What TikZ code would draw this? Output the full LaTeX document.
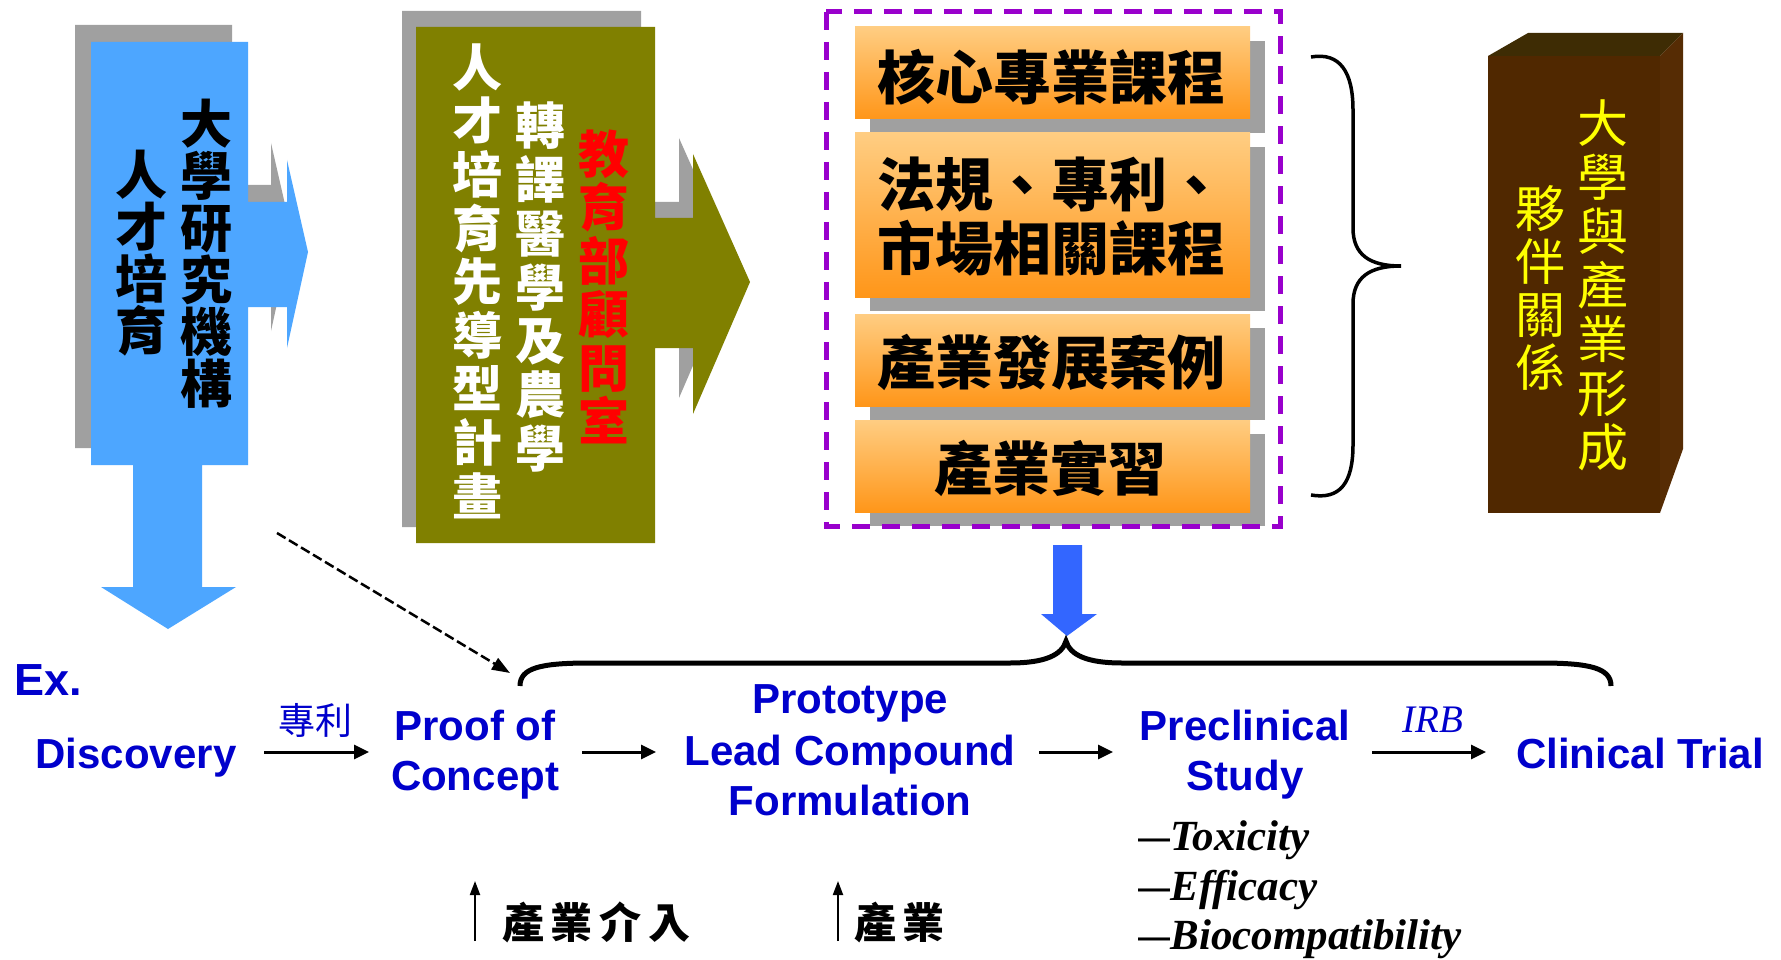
\documentclass[tikz,border=0pt]{standalone}
\usepackage{fontspec}
\setmainfont{Liberation Sans}
\newfontfamily\tnr{Liberation Serif}
\newfontfamily\cjk{Noto Sans CJK TC}
\newfontfamily\cjksp{Noto Sans CJK TC}[LetterSpace=16]
\usetikzlibrary{arrows.meta}
\definecolor{skyb}{RGB}{77,166,255}
\definecolor{shad}{RGB}{160,160,160}
\definecolor{oliv}{RGB}{128,128,0}
\definecolor{purp}{RGB}{153,0,204}
\definecolor{brn}{RGB}{80,40,0}
\definecolor{brntop}{RGB}{62,44,4}
\definecolor{brnside}{RGB}{86,44,4}
\definecolor{txtblue}{RGB}{0,0,204}
\definecolor{dblue}{RGB}{51,102,255}
\definecolor{orlight}{RGB}{255,205,130}
\definecolor{ordark}{RGB}{255,150,25}
\definecolor{tyellow}{RGB}{255,255,0}
\definecolor{tred}{RGB}{255,0,0}
\newcommand{\longdash}{\scalebox{1.45}[1]{–}}
\tikzset{
  vcol/.style={align=center, inner sep=0pt},
  blab/.style={font=\bfseries\fontsize{42}{51}\selectfont, text=txtblue, inner sep=0pt, anchor=base},
  subl/.style={font=\tnr\bfseries\itshape\fontsize{43}{43}\selectfont, inner sep=0pt, anchor=base west},
  arr/.style={line width=3pt, -{Triangle[length=15pt,width=14pt]}},
  uparr/.style={line width=2pt, -{Triangle[length=14pt,width=10pt]}},
  obox/.style={top color=orlight, bottom color=ordark, draw=none},
  otext/.style={font=\cjk\bfseries\fontsize{58}{64}\selectfont, inner sep=0pt, align=left},
  indus/.style={font=\cjksp\bfseries\fontsize{42}{42}\selectfont, inner sep=0pt, anchor=base west}
}
\begin{document}
\begin{tikzpicture}[x=1pt,y=-1pt]
\fill[white] (0,0) rectangle (1781,960);
\useasboundingbox (0,0) rectangle (1781,960);

% ---------- blue arrow (university) ----------
\fill[shad, shift={(-16,-17)}] (91,42) -- (248,42) -- (248,202) -- (287,202) -- (287,160) -- (308,252) -- (287,348) -- (287,307) -- (248,307) -- (248,465) -- (91,465) -- cycle;
\fill[skyb] (91,42) -- (248,42) -- (248,202) -- (287,202) -- (287,160) -- (308,252) -- (287,348) -- (287,307) -- (248,307) -- (248,465) -- (202,465) -- (202,587) -- (236,587) -- (168,629) -- (101,587) -- (133,587) -- (133,465) -- (91,465) -- cycle;
\node[vcol, font=\cjk\bfseries\fontsize{52}{52}\selectfont] (blueA) at (206,254) {大\\學\\研\\究\\機\\構};
\node[vcol, font=\cjk\bfseries\fontsize{52}{52}\selectfont] (blueB) at (141,253) {人\\才\\培\\育};

% ---------- olive arrow ----------
\fill[shad, shift={(-14,-16)}] (416,27) -- (655,27) -- (655,218) -- (693,218) -- (693,154) -- (750,282) -- (693,414) -- (693,348) -- (655,348) -- (655,543) -- (416,543) -- cycle;
\fill[oliv] (416,27) -- (655,27) -- (655,218) -- (693,218) -- (693,154) -- (750,282) -- (693,414) -- (693,348) -- (655,348) -- (655,543) -- (416,543) -- cycle;
\node[vcol, text=white, font=\cjk\bfseries\fontsize{50}{53.6}\selectfont] (olA) at (477,281) {人\\才\\培\\育\\先\\導\\型\\計\\畫};
\node[vcol, text=white, font=\cjk\bfseries\fontsize{50}{53.8}\selectfont] (olB) at (540,287) {轉\\譯\\醫\\學\\及\\農\\學};
\node[vcol, text=tred, font=\cjk\bfseries\fontsize{51}{53.4}\selectfont] (olC) at (604,287) {教\\育\\部\\顧\\問\\室};

% ---------- orange course boxes ----------
\fill[shad] (870,41) rectangle (1265,133);
\fill[shad] (870,147) rectangle (1265,311);
\fill[shad] (870,328) rectangle (1265,420);
\fill[shad] (870,434) rectangle (1265,526);
\shade[obox] (855,27) rectangle (1250,119);
\shade[obox] (855,133) rectangle (1250,297);
\shade[obox] (855,314) rectangle (1250,406);
\shade[obox] (855,420) rectangle (1250,512);
\node[otext, anchor=west] (c1) at (877,77) {核心專業課程};
\node[otext, anchor=west] (c2) at (877,217) {法規、專利、\\市場相關課程};
\node[otext, anchor=west] (c3) at (877,362) {產業發展案例};
\node[otext] (c4) at (1050,468) {產業實習};
\draw[purp, line width=5pt, dash pattern=on 18pt off 12pt] (826,12) rectangle (1280,526);

% ---------- right brace ----------
\draw[line width=3.5pt] (1311,57) .. controls (1340,52) and (1353,72) .. (1353,110) -- (1353,228) .. controls (1353,255) and (1370,266) .. (1401,266) .. controls (1370,266) and (1353,277) .. (1353,304) -- (1353,445) .. controls (1353,483) and (1340,500) .. (1311,495);

% ---------- brown block ----------
\fill[brn] (1488,56) rectangle (1660,513);
\fill[brntop] (1488,56) -- (1528,33) -- (1683,33) -- (1660,56) -- cycle;
\fill[brnside] (1660,56) -- (1683,33) -- (1683,449) -- (1660,513) -- cycle;
\node[vcol, text=tyellow, font=\cjk\fontsize{51}{54}\selectfont] (brA) at (1603,285) {大\\學\\與\\產\\業\\形\\成};
\node[vcol, text=tyellow, font=\cjk\fontsize{50}{53}\selectfont] (brB) at (1540,288) {夥\\伴\\關\\係};

% ---------- small blue down arrow & bottom brace ----------
\fill[dblue] (1053,545) -- (1082,545) -- (1082,614) -- (1097,614) -- (1067,636) -- (1041,614) -- (1053,614) -- cycle;
\draw[line width=5pt] (520,686) .. controls (520,668) and (540,663) .. (590,663) -- (1010,663) .. controls (1045,663) and (1062,655) .. (1066,641) .. controls (1070,655) and (1087,663) .. (1122,663) -- (1540,663) .. controls (1590,663) and (1611,668) .. (1611,686);

% ---------- dashed arrow ----------
\coordinate (dshS) at (277,533);
\coordinate (dshE) at (510,673);
\draw[line width=2.5pt, dash pattern=on 10pt off 4pt, -{Triangle[length=18pt,width=13pt]}] (dshS) -- (dshE);

% ---------- pipeline labels ----------
\node[blab, font=\bfseries\fontsize{45}{45}\selectfont, anchor=base west] (ex) at (14,695) {Ex.};
\node[blab] (disc) at (136,768) {Discovery};
\node[blab] (poc1) at (475,740) {Proof of};
\node[blab] (poc2) at (475,790) {Concept};
\node[blab] (pro1) at (850,713) {Prototype};
\node[blab] (pro2) at (850,765) {Lead Compound};
\node[blab] (pro3) at (850,815) {Formulation};
\node[blab] (pre1) at (1245,740) {Preclinical};
\node[blab] (pre2) at (1245,790) {Study};
\node[blab] (clin) at (1640,768) {Clinical Trial};
\node[font=\cjk\fontsize{37}{37}\selectfont, text=txtblue, inner sep=0pt] (pat) at (315,720) {專利};
\node[font=\tnr\itshape\fontsize{39}{39}\selectfont, text=txtblue, inner sep=0pt, anchor=base] (irb) at (1433,732) {IRB};
\node[subl] (tox) at (1139,850) {\longdash Toxicity};
\node[subl] (eff) at (1139,900) {\longdash Efficacy};
\node[subl] (bio) at (1139,949) {\longdash Biocompatibility};

% ---------- pipeline arrows ----------
\coordinate (a1s) at (264,752); \coordinate (a1e) at (369,752);
\coordinate (a2s) at (582,752); \coordinate (a2e) at (656,752);
\coordinate (a3s) at (1039,752); \coordinate (a3e) at (1113,752);
\coordinate (a4s) at (1372,752); \coordinate (a4e) at (1486,752);
\draw[arr] (a1s) -- (a1e);
\draw[arr] (a2s) -- (a2e);
\draw[arr] (a3s) -- (a3e);
\draw[arr] (a4s) -- (a4e);

% ---------- industry involvement ----------
\coordinate (u1s) at (475,941); \coordinate (u1e) at (475,881);
\coordinate (u2s) at (838,941); \coordinate (u2e) at (838,881);
\draw[uparr] (u1s) -- (u1e);
\draw[uparr] (u2s) -- (u2e);
\node[indus] (ind1) at (502,938) {產業介入};
\node[indus] (ind2) at (854,938) {產業};
\end{tikzpicture}
\end{document}
